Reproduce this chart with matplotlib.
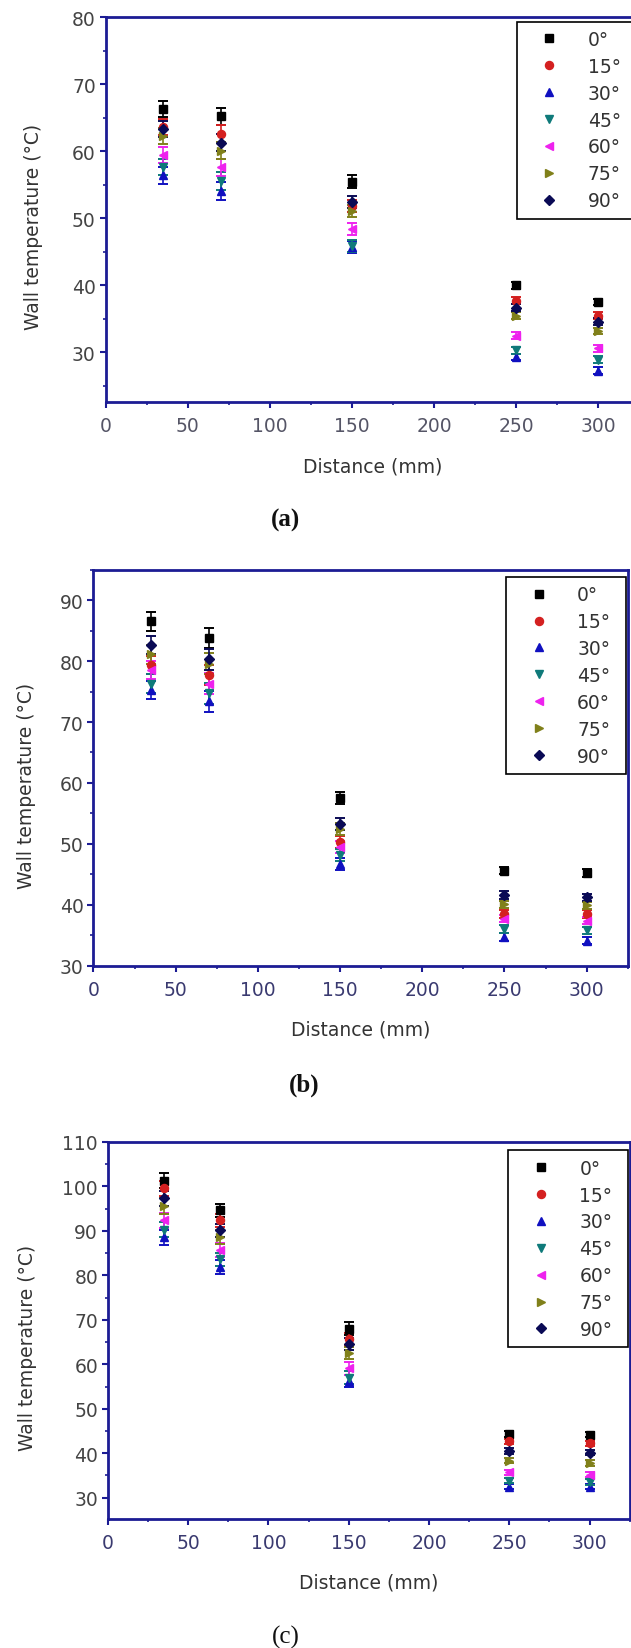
import matplotlib
matplotlib.use("Agg")
import matplotlib.pyplot as plt
from matplotlib.ticker import MultipleLocator

plt.rcParams['font.family'] = ['DejaVu Sans']

# ---------------- data ----------------
distance = [35, 70, 150, 250, 300]
angles = ["0°", "15°", "30°", "45°", "60°", "75°", "90°"]

# panel (a)
a_0 = [66.3, 65.2, 55.5, 40.0, 37.5]
a_15 = [63.6, 62.6, 51.9, 37.7, 35.5]
a_30 = [56.4, 54.1, 45.7, 29.3, 27.3]
a_45 = [57.6, 55.6, 45.9, 30.3, 28.9]
a_60 = [59.4, 57.6, 48.4, 32.5, 30.6]
a_75 = [62.3, 60.1, 51.1, 35.5, 33.2]
a_90 = [63.4, 61.3, 52.4, 36.7, 34.6]
err_a = [1.2, 1.3, 0.9, 0.5, 0.5]

# panel (b)
b_0 = [86.5, 83.8, 57.5, 45.6, 45.2]
b_15 = [79.3, 77.7, 50.3, 38.5, 38.5]
b_30 = [75.2, 73.4, 46.7, 34.7, 34.1]
b_45 = [76.3, 74.7, 48.2, 36.0, 35.8]
b_60 = [78.5, 76.3, 49.5, 37.7, 37.4]
b_75 = [81.1, 79.6, 52.5, 40.1, 39.9]
b_90 = [82.6, 80.3, 53.3, 41.6, 41.2]
err_b = [1.5, 1.7, 1.0, 0.6, 0.6]

# panel (c)
c_0 = [101.3, 94.6, 68.0, 44.3, 44.2]
c_15 = [99.6, 92.4, 65.6, 42.7, 42.2]
c_30 = [88.6, 81.9, 56.2, 32.5, 32.5]
c_45 = [90.3, 83.6, 57.0, 33.8, 33.5]
c_60 = [92.4, 85.7, 59.1, 35.7, 35.2]
c_75 = [95.6, 88.6, 62.5, 38.3, 37.8]
c_90 = [97.3, 90.1, 64.6, 40.5, 40.1]
err_c = [1.7, 1.5, 1.4, 0.6, 0.6]

# ---------------- style ----------------
markers = ['s', 'o', '^', 'v', '<', '>', 'D']
colors = ['#000000', '#d42020', '#1010c0', '#0f7a7a', '#ee22ee', '#80801a', '#0a0a55']
navy = '#1c1c94'

W, H = 631, 1649
fig = plt.figure(figsize=(W / 100, H / 100), dpi=100)


def px_axes(left, right, top, bottom):
    return [left / W, 1 - bottom / H, (right - left) / W, (bottom - top) / H]


panels = [
    dict(series=[a_0, a_15, a_30, a_45, a_60, a_75, a_90], err=err_a,
         rect=px_axes(105.5, 639.5, 18.3, 403), ylim=(22.6, 80), major=10,
         ylab=(-0.134, 0.457), xlab=-0.166, leg=(0.770, 0.989, 0.225),
         xtc='#555566', letter="(a)", lpos=(285.7, 520), bold=True),
    dict(series=[b_0, b_15, b_30, b_45, b_60, b_75, b_90], err=err_b,
         rect=px_axes(93.4, 627.8, 570.7, 966.7), ylim=(30, 95), major=10,
         ylab=(-0.126, 0.456), xlab=-0.160, leg=(0.772, 0.982, 0.224),
         xtc='#3a3a70', letter="(b)", lpos=(303.8, 1085), bold=True),
    dict(series=[c_0, c_15, c_30, c_45, c_60, c_75, c_90], err=err_c,
         rect=px_axes(107.8, 629.8, 1143, 1520), ylim=(25.2, 110), major=10,
         ylab=(-0.153, 0.457), xlab=-0.167, leg=(0.767, 0.978, 0.229),
         xtc='#3a3a70', letter="(c)", lpos=(285.7, 1637), bold=False),
]

for p in panels:
    ax = fig.add_axes(p['rect'])
    for vals, m, c, lab in zip(p['series'], markers, colors, angles):
        ax.errorbar(distance, vals, yerr=p['err'], fmt='none', ecolor=c,
                    elinewidth=1.2, capsize=3.4, capthick=1.4, zorder=2)
        ms = 5.2 if m == 'D' else 5.8
        ax.plot(distance, vals, ls='none', marker=m, color=c, ms=ms,
                mec=c, label=lab, zorder=3)
    ax.set_xlim(0, 325)
    ax.set_ylim(*p['ylim'])
    ax.xaxis.set_major_locator(MultipleLocator(50))
    ax.xaxis.set_minor_locator(MultipleLocator(25))
    ax.yaxis.set_major_locator(MultipleLocator(p['major']))
    ax.yaxis.set_minor_locator(MultipleLocator(5))
    for s in ax.spines.values():
        s.set_color(navy)
        s.set_linewidth(2.0)
    ax.tick_params(which='major', direction='out', length=4, width=1.5,
                   color=navy, labelsize=13.5, pad=5)
    ax.tick_params(which='minor', direction='out', length=2.5, width=1.2,
                   color=navy)
    ax.tick_params(axis='x', which='major', pad=6, labelcolor=p['xtc'])
    ax.tick_params(axis='y', which='major', pad=3, labelcolor='#444444')

    ax.set_xlabel("Distance (mm)", fontsize=13.5, color='#333333')
    ax.set_ylabel("Wall temperature (°C)", fontsize=13.5, color='#333333')
    ax.xaxis.set_label_coords(0.5, p['xlab'])
    ax.xaxis.label.set_va('center')
    ax.yaxis.set_label_coords(*p['ylab'])
    ax.yaxis.label.set_va('center')

    lx0, ltop, lw = p['leg']
    leg = ax.legend(loc='upper left', bbox_to_anchor=(lx0, 0, lw, ltop),
                    mode='expand', borderaxespad=0,
                    fontsize=13.5, numpoints=1, handlelength=2.6,
                    handletextpad=0.75, labelspacing=0.42, borderpad=0.45,
                    fancybox=False, framealpha=1, edgecolor='black')
    leg.get_frame().set_linewidth(1.2)
    for t in leg.get_texts():
        t.set_color('#333333')

    lx, ly = p['lpos']
    fig.text(lx / W, 1 - ly / H, p['letter'], ha='center', va='center',
             fontsize=18, family=['Liberation Serif'],
             fontweight='bold' if p['bold'] else 'normal', color='#111111')

fig.savefig("out.png", dpi=100)
